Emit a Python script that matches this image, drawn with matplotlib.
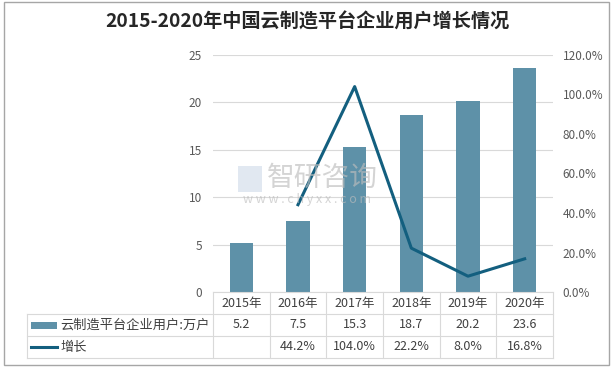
import matplotlib.pyplot as plt
from matplotlib.lines import Line2D
from matplotlib.patches import Rectangle

plt.rcParams['font.family'] = ['Noto Sans CJK SC', 'DejaVu Sans']

years = ['2015年', '2016年', '2017年', '2018年', '2019年', '2020年']
users = [5.2, 7.5, 15.3, 18.7, 20.2, 23.6]  # 万户
growth = [None, 44.2, 104.0, 22.2, 8.0, 16.8]  # %
bar_name = '云制造平台企业用户:万户'
line_name = '增长'

bar_color = '#5e91a8'
line_color = '#135f7f'
grid_color = '#d9d9d9'
tick_color = '#595959'
text_color = '#404040'

W, H = 614, 369
fig = plt.figure(figsize=(W / 100, H / 100), dpi=100)


def fx(px):
    return px / W


def fy(py):
    return 1 - py / H


# plot area in pixels
L, R, T, B = 213, 553, 55, 292
ax = fig.add_axes([fx(L), fy(B), fx(R - L), (B - T) / H])
ax2 = ax.twinx()

x = list(range(len(years)))
ax.bar(x, users, width=0.41, color=bar_color, zorder=2)
ax.set_xlim(-0.5, len(years) - 0.5)
ax.set_ylim(0, 25)
ax.set_yticks(range(0, 26, 5))
ax.grid(axis='y', color=grid_color, linewidth=0.8, zorder=0)
ax.set_xticks([])
for s in ['top', 'right', 'left']:
    ax.spines[s].set_visible(False)
ax.spines['bottom'].set_color(grid_color)
ax.tick_params(axis='y', length=0, pad=8, labelsize=8.5, labelcolor=tick_color)

gx = [i for i, g in zip(x, growth) if g is not None]
gy = [g for g in growth if g is not None]
ax2.plot(gx, gy, color=line_color, linewidth=2.2, zorder=3)
ax2.set_ylim(0, 120)
ax2.set_yticks(range(0, 121, 20))
ax2.set_yticklabels([f'{v:.1f}%' for v in range(0, 121, 20)])
for s in ax2.spines.values():
    s.set_visible(False)
ax2.tick_params(axis='y', length=0, pad=7, labelsize=8.5, labelcolor=tick_color)

# title
fig.text(0.5, fy(22), '2015-2020年中国云制造平台企业用户增长情况', ha='center', va='center',
         fontsize=13.8, fontweight='bold', color='#262626')

# watermark
fig.text(fx(267), fy(178), '智研咨询', ha='left', va='center', fontsize=20,
         color='#bdbdbd', alpha=0.65, zorder=5)
fig.text(fx(307), fy(199), 'w w w . c h y x x . c o m', ha='center', va='center', fontsize=9,
         color='#bdbdbd', alpha=0.65, zorder=5)
fig.patches.append(Rectangle((fx(238), fy(192)), fx(24), 26 / H, transform=fig.transFigure,
                             facecolor='#c9d6e6', alpha=0.55, edgecolor='none', zorder=4))

# data table
col_w = (R - L) / len(years)
TL = 27
rows = [B, 314, 336, 358]


def hline(y, x0, x1):
    fig.add_artist(Line2D([fx(x0), fx(x1)], [fy(y), fy(y)], color=grid_color, linewidth=0.8))


def vline(xp, y0, y1):
    fig.add_artist(Line2D([fx(xp), fx(xp)], [fy(y0), fy(y1)], color=grid_color, linewidth=0.8))


for y in rows[1:]:
    hline(y, TL, R)
vline(TL, rows[1], rows[3])
for k in range(len(years) + 1):
    vline(L + k * col_w, rows[0], rows[3])

for i, yr in enumerate(years):
    cx = L + (i + 0.5) * col_w
    fig.text(fx(cx), fy((rows[0] + rows[1]) / 2), yr, ha='center', va='center',
             fontsize=9, color=text_color)
    fig.text(fx(cx), fy((rows[1] + rows[2]) / 2), f'{users[i]:.1f}', ha='center', va='center',
             fontsize=9, color=text_color)
    if growth[i] is not None:
        fig.text(fx(cx), fy((rows[2] + rows[3]) / 2), f'{growth[i]:.1f}%', ha='center',
                 va='center', fontsize=9, color=text_color)

# legend keys inside the table
r1 = (rows[1] + rows[2]) / 2
r2 = (rows[2] + rows[3]) / 2
fig.patches.append(Rectangle((fx(31), fy(r1 + 3.5)), fx(26), 7 / H, transform=fig.transFigure,
                             facecolor=bar_color, edgecolor='none'))
fig.add_artist(Line2D([fx(31), fx(57)], [fy(r2), fy(r2)], color=line_color, linewidth=2.2))
fig.text(fx(60), fy(r1), bar_name, ha='left', va='center', fontsize=9.5, color=text_color)
fig.text(fx(60), fy(r2), line_name, ha='left', va='center', fontsize=9.5, color=text_color)

# outer border
fig.patches.append(Rectangle((fx(4), fy(365)), fx(605), 363 / H, transform=fig.transFigure,
                             facecolor='none', edgecolor='#a6a6a6', linewidth=1))

fig.savefig('out.png', dpi=100)
